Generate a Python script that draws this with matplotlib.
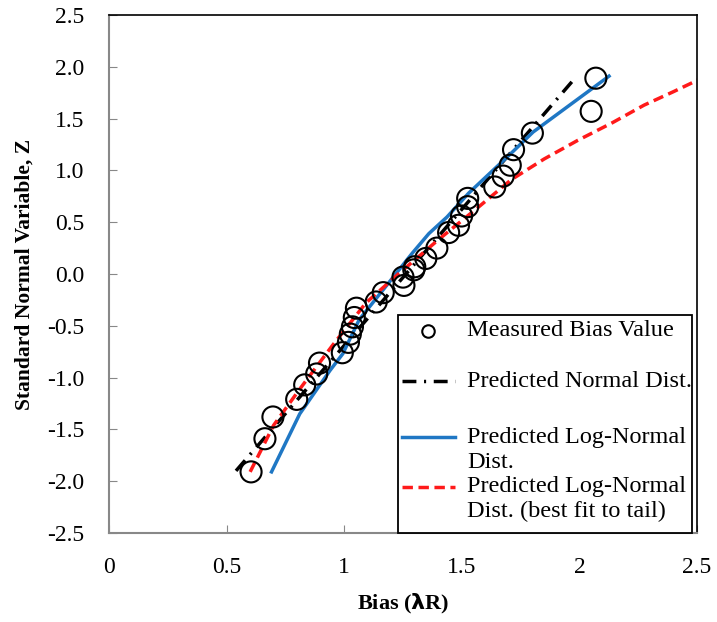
import matplotlib.pyplot as plt
from matplotlib.lines import Line2D
from matplotlib.patches import Rectangle

plt.rcParams['font.family'] = ['Liberation Serif', 'DejaVu Serif']

# measured bias values and their standard normal variable
bias_meas = [0.604, 0.663, 0.697, 0.798, 0.832, 0.883, 0.895, 0.992, 1.018, 1.026,
             1.035, 1.043, 1.052, 1.136, 1.166, 1.254, 1.250, 1.296, 1.30, 1.347,
             1.394, 1.444, 1.486, 1.499, 1.525, 1.525, 1.64, 1.676, 1.706, 1.72,
             1.80, 2.05, 2.07]
z_meas = [-1.91, -1.59, -1.38, -1.21, -1.07, -0.965, -0.86, -0.76, -0.66, -0.58,
          -0.51, -0.42, -0.33, -0.27, -0.18, -0.11, -0.03, 0.04, 0.07, 0.15,
          0.25, 0.40, 0.47, 0.56, 0.65, 0.73, 0.84, 0.945, 1.05, 1.20,
          1.36, 1.57, 1.89]

# predicted normal
normal_x = [0.54, 1.985]
normal_z = [-1.90, 1.90]

# predicted log-normal
lognorm_x = [0.691, 0.811, 0.94, 0.994, 1.064, 1.177, 1.254, 1.289, 1.36, 1.437,
             1.529, 1.712, 1.803, 2.126]
lognorm_z = [-1.91, -1.35, -0.93, -0.77, -0.44, -0.12, 0.10, 0.20, 0.39, 0.55,
             0.78, 1.17, 1.37, 1.91]

# predicted log-normal, best fit to tail
tail_x = [0.60, 0.70, 0.808, 0.95, 1.092, 1.23, 1.40, 1.573, 1.71, 1.85, 1.993,
          2.14, 2.275, 2.40, 2.52]
tail_z = [-1.91, -1.46, -1.12, -0.69, -0.28, 0.0, 0.33, 0.65, 0.91, 1.11, 1.29,
          1.46, 1.63, 1.76, 1.89]

blue = '#1f77c4'
red = '#ff1a1a'
dash_dot = (4, 2.2, 0.6, 2.2)
red_dash = (3, 1.6)

fig = plt.figure(figsize=(7.17, 6.22), dpi=100)
ax = fig.add_axes([109 / 717, 1 - 533 / 622, 588 / 717, 518 / 622])

ax.plot(normal_x, normal_z, color='black', lw=2.5, dashes=dash_dot)
ax.plot(lognorm_x, lognorm_z, color=blue, lw=2.5)
ax.plot(tail_x, tail_z, color=red, lw=2.5, dashes=red_dash)
ax.scatter(bias_meas, z_meas, s=230, facecolors='none', edgecolors='black',
           linewidths=1.5, zorder=3)

ax.set_xlim(0, 2.5)
ax.set_ylim(-2.5, 2.5)
ax.set_xticks([0, 0.5, 1, 1.5, 2, 2.5])
ax.set_xticklabels(['0', '0.5', '1', '1.5', '2', '2.5'])
yt = [-2.5, -2, -1.5, -1, -0.5, 0, 0.5, 1, 1.5, 2, 2.5]
ax.set_yticks(yt)
ax.set_yticklabels(['%.1f' % v for v in yt])
ax.tick_params(direction='in', length=6, labelsize=17, color='#888888')
ax.tick_params(axis='y', pad=18)
ax.tick_params(axis='x', pad=17)

for s in ['left', 'bottom']:
    ax.spines[s].set_color('#888888')
    ax.spines[s].set_linewidth(1.5)
for s in ['top', 'right']:
    ax.spines[s].set_color('black')
    ax.spines[s].set_linewidth(1.2)

ax.set_xlabel(r'Bias ($\mathbf{\lambda}$R)', fontsize=16, fontweight='bold', labelpad=10)
ax.set_ylabel('Standard Normal Variable, Z', fontsize=15.5, fontweight='bold', labelpad=9)

# legend drawn by hand so the handles sit on the first text line, as in the original
tr = ax.transAxes
ax.add_patch(Rectangle((0.4915, 0.0), 0.5005, 0.421, transform=tr, facecolor='white',
                       edgecolor='black', lw=1.3, zorder=10, clip_on=False))
hx = [0.498, 0.588]
ax.add_line(Line2D([0.5425], [0.390], transform=tr, marker='o', ls='none', mfc='none',
                   mec='black', ms=9, mew=1.5, zorder=11))
ax.add_line(Line2D(hx, [0.293, 0.293], transform=tr, color='black', lw=2.5,
                   dashes=dash_dot, zorder=11))
ax.add_line(Line2D(hx, [0.185, 0.185], transform=tr, color=blue, lw=2.5, zorder=11))
ax.add_line(Line2D(hx, [0.089, 0.089], transform=tr, color=red, lw=2.5,
                   dashes=red_dash, zorder=11))
leg_lines = ['Measured Bias Value', 'Predicted Normal Dist.', 'Predicted Log-Normal',
             'Dist.', 'Predicted Log-Normal', 'Dist. (best fit to tail)']
leg_y = [0.390, 0.293, 0.185, 0.137, 0.089, 0.041]
for txt, yy in zip(leg_lines, leg_y):
    ax.text(0.609, yy, txt, transform=tr, fontsize=17.5, va='center', ha='left', zorder=12)

fig.savefig('out.png', dpi=100)
